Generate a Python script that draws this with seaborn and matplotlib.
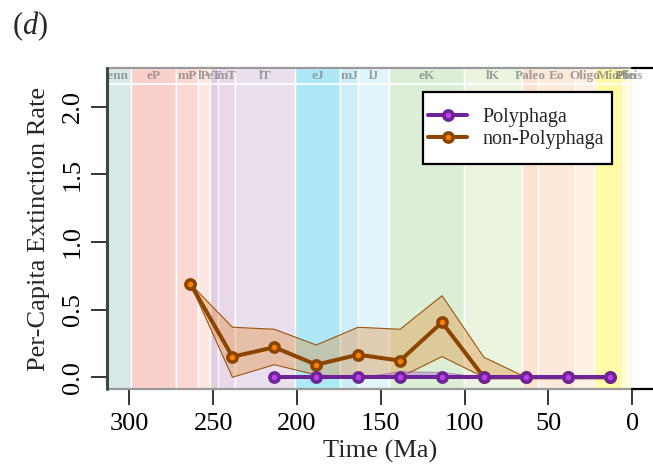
import numpy as np
import pandas as pd
import matplotlib
matplotlib.use("Agg")
import matplotlib.pyplot as plt
import seaborn as sns
from matplotlib.lines import Line2D
from matplotlib.patches import Rectangle

# ---------------- data ----------------
ages = [263.5, 238.5, 213.5, 188.5, 163.5, 138.5, 113.5, 88.5, 63.5, 38.5, 13.5]
nonpoly_rate = [0.69, 0.152, 0.222, 0.093, 0.167, 0.123, 0.406, 0.0, 0.0, 0.0, 0.0]
nonpoly_upper = [0.69, 0.37, 0.355, 0.239, 0.37, 0.355, 0.603, 0.148, 0.0, 0.0, 0.0]
nonpoly_lower = [0.69, 0.0, 0.093, 0.017, 0.0, 0.0, 0.153, 0.0, 0.0, 0.0, 0.0]

poly_ages = [213.5, 188.5, 163.5, 138.5, 113.5, 88.5, 63.5, 38.5, 13.5]
poly_rate = [0.0, 0.0, 0.0, 0.0, 0.0, 0.0, 0.0, 0.0, 0.0]
poly_upper = [0.0, 0.0, 0.0, 0.045, 0.04, 0.0, 0.0, 0.0, 0.0]
poly_lower = [0.0, 0.0, 0.0, 0.0, 0.0, 0.0, 0.0, 0.0, 0.0]

period_labels = ["Penn", "eP", "mP", "lP", "eT", "mT", "lT", "eJ", "mJ", "lJ",
                 "eK", "lK", "Paleo", "Eo", "Oligo", "Mio", "Plio", "Pleis"]
period_start = [323.2, 298.9, 272.3, 259.1, 251.9, 247.2, 237.0, 201.3, 174.1, 163.5,
                145.0, 100.5, 66.0, 56.0, 33.9, 23.0, 5.33, 2.58]
period_end = [298.9, 272.3, 259.1, 251.9, 247.2, 237.0, 201.3, 174.1, 163.5, 145.0,
              100.5, 66.0, 56.0, 33.9, 23.0, 5.33, 2.58, 0.0117]
period_colors = ["#d9e9e9", "#f9d0cc", "#fdd8d2", "#fde6e0", "#e3cbe0", "#e8d8e8",
                 "#eadfec", "#aee8f7", "#cbeef8", "#dff4fb", "#dcefd6", "#eaf4e0",
                 "#fde2d0", "#fde9da", "#fef0e2", "#fffaa8", "#fffbd2", "#fff6e2"]

x_ticks = [300, 250, 200, 150, 100, 50, 0]
y_ticks = [0.0, 0.5, 1.0, 1.5, 2.0]

# ---------------- style ----------------
sns.set_theme(style="ticks")
plt.rcParams["font.family"] = ["Liberation Serif", "DejaVu Serif"]
plt.rcParams["mathtext.fontset"] = "custom"
plt.rcParams["mathtext.rm"] = "Liberation Serif"
plt.rcParams["mathtext.it"] = "Liberation Serif:italic"

fig = plt.figure(figsize=(6.53, 4.70), dpi=100)
ax = fig.add_axes([107 / 653, 81 / 470, 546 / 653, 321 / 470])

xlim = (313.3, -12.35)
ylim = (-0.0865, 2.286)
strip_y = 2.168
ax.set_xlim(*xlim)
ax.set_ylim(*ylim)

# geological bands
for lab, s, e, c in zip(period_labels, period_start, period_end, period_colors):
    ax.axvspan(s, e, facecolor=c, edgecolor="white", linewidth=1.0, zorder=0.5)
    ax.text((min(s, xlim[0] + 6) + e) / 2, (strip_y + ylim[1]) / 2, lab,
            ha="center", va="center", fontsize=9.5, fontweight="bold",
            color="#7a7a7a", alpha=0.7, zorder=0.7, clip_on=True)
ax.axhline(strip_y, color="white", linewidth=1.2, zorder=0.6)

# frame
f0 = (xlim[0] - 0) / (xlim[0] - xlim[1])
for yv in ylim:
    ax.axhline(yv, xmin=0, xmax=f0, color="#9a9a9a", linewidth=1.6, zorder=0.9, clip_on=False)
    ax.axhline(yv, xmin=f0, xmax=1, color="black", linewidth=1.6, zorder=0.9, clip_on=False)
ax.axvline(xlim[0], color="#3c4848", linewidth=2.2, zorder=0.9, clip_on=False)
for sp in ax.spines.values():
    sp.set_visible(False)

# confidence bands
ax.fill_between(ages, nonpoly_lower, nonpoly_upper, facecolor="#e0862a", alpha=0.35,
                edgecolor="none", zorder=1)
ax.plot(ages, nonpoly_upper, color="#9a5612", linewidth=0.8, zorder=1.1)
ax.plot(ages, nonpoly_lower, color="#9a5612", linewidth=0.8, zorder=1.1)
ax.fill_between(poly_ages, poly_lower, poly_upper, facecolor="#b27ccc", alpha=0.5,
                edgecolor="#7a3a9a", linewidth=0.6, zorder=1.2)

brown = "#8b4500"
purple = "#6e2496"
ms, mew, lw = 6.6, 2.6, 2.9
df_np = pd.DataFrame({"Time": ages, "Rate": nonpoly_rate})
df_p = pd.DataFrame({"Time": poly_ages, "Rate": poly_rate})
sns.lineplot(data=df_np, x="Time", y="Rate", ax=ax, color=brown, linewidth=lw,
             marker="o", markersize=ms, markeredgewidth=mew, markeredgecolor=brown,
             markerfacecolor="#ff8000", zorder=3, legend=False)
sns.lineplot(data=df_p, x="Time", y="Rate", ax=ax, color=purple, linewidth=lw,
             marker="o", markersize=ms, markeredgewidth=mew, markeredgecolor=purple,
             markerfacecolor="#c040f0", zorder=4, legend=False)

# axes
ax.set_xticks(x_ticks)
ax.set_xticklabels([str(t) for t in x_ticks])
ax.set_yticks(y_ticks)
ax.set_yticklabels([f"{t:.1f}" for t in y_ticks], rotation=90, va="center")
ax.tick_params(axis="both", direction="out", length=11.5, width=1.1, color="black",
               labelsize=19, labelcolor="black", bottom=True, left=True)
ax.tick_params(axis="x", pad=6)
ax.tick_params(axis="y", pad=5)
ax.set_xlabel("Time (Ma)", fontsize=19, labelpad=3)
ax.set_ylabel("Per-Capita Extinction Rate", fontsize=19, labelpad=9)
ax.grid(False)

# legend with its own frame box
frame = Rectangle((423 / 653, 1 - 164 / 470), (612 - 423) / 653, (164 - 92) / 470,
                  transform=fig.transFigure, facecolor="white", edgecolor="black",
                  linewidth=1.6, zorder=4.5, clip_on=False)
ax.add_artist(frame)
handles = [
    Line2D([], [], color=purple, linewidth=lw, marker="o", markersize=ms,
           markeredgewidth=mew, markeredgecolor=purple, markerfacecolor="#c040f0"),
    Line2D([], [], color=brown, linewidth=lw, marker="o", markersize=ms,
           markeredgewidth=mew, markeredgecolor=brown, markerfacecolor="#ff8000"),
]
leg = ax.legend(handles, ["Polyphaga", "non-Polyphaga"], loc="center left",
                bbox_to_anchor=(428 / 653, 1 - 128.5 / 470), bbox_transform=fig.transFigure,
                borderaxespad=0, borderpad=0, fontsize=14.5, frameon=False,
                handlelength=1.95, handletextpad=0.75, labelspacing=0.17)
leg.set_zorder(5)

fig.text(12 / 653, 1 - 9 / 470, r"($\mathit{d}$)", fontsize=22, ha="left", va="top")

fig.savefig("out.png", dpi=100)
